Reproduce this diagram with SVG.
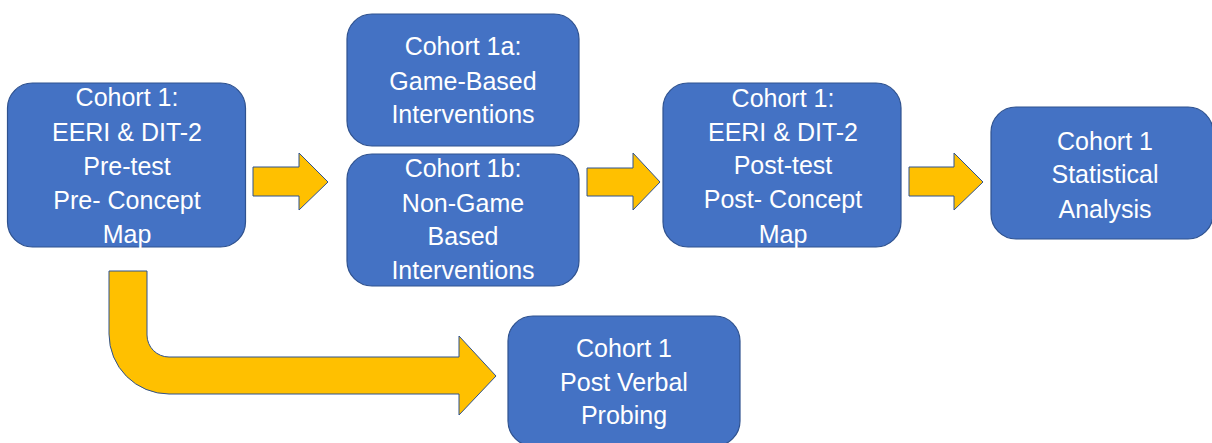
<svg xmlns="http://www.w3.org/2000/svg" width="1212" height="443" viewBox="0 0 1212 443">
<style>
.box{fill:#4472C4;stroke:#2F528F;stroke-width:1.2}
.arr{fill:#FFC000;stroke:#2F528F;stroke-width:1}
.t{font-family:"Liberation Sans",Arial,sans-serif;font-size:25px;fill:#ffffff;text-anchor:middle}
</style>
<rect width="1212" height="443" fill="#ffffff"/>
<g id="connectors">
<path class="arr" d="M253,167 L299,167 L299,153 L328,182 L299,210 L299,196 L253,196 Z"/>
<path class="arr" d="M587,168 L633,168 L633,153 L660,182 L633,210 L633,196 L587,196 Z"/>
<path class="arr" d="M909,167 L954,167 L954,153 L983,182 L954,210 L954,196 L909,196 Z"/>
<path class="arr" d="M109,271 L147,271 L147,335 A22,22 0 0 0 169,357 L459,357 L459,336 L496,376 L459,415 L459,394 L169,394 A60,60 0 0 1 109,334 Z"/>
</g>
<g id="pretest">
<rect class="box" x="7.5" y="83" width="238" height="164" rx="25"/>
<text class="t" x="127" y="106">Cohort 1:</text>
<text class="t" x="127" y="141">EERI &amp; DIT-2</text>
<text class="t" x="127" y="175">Pre-test</text>
<text class="t" x="127" y="209">Pre- Concept</text>
<text class="t" x="127" y="243">Map</text>
</g>
<g id="cohort1a">
<rect class="box" x="347" y="14" width="232" height="132" rx="25"/>
<text class="t" x="463" y="55">Cohort 1a:</text>
<text class="t" x="463" y="90">Game-Based</text>
<text class="t" x="463" y="123">Interventions</text>
</g>
<g id="cohort1b">
<rect class="box" x="347" y="154" width="232" height="132" rx="25"/>
<text class="t" x="463" y="177">Cohort 1b:</text>
<text class="t" x="463" y="212">Non-Game</text>
<text class="t" x="463" y="245">Based</text>
<text class="t" x="463" y="279">Interventions</text>
</g>
<g id="posttest">
<rect class="box" x="663" y="83" width="238" height="164" rx="25"/>
<text class="t" x="783" y="107">Cohort 1:</text>
<text class="t" x="783" y="141">EERI &amp; DIT-2</text>
<text class="t" x="783" y="174">Post-test</text>
<text class="t" x="783" y="208">Post- Concept</text>
<text class="t" x="783" y="243">Map</text>
</g>
<g id="statistical">
<rect class="box" x="991" y="107" width="222" height="132" rx="25"/>
<text class="t" x="1105" y="150">Cohort 1</text>
<text class="t" x="1105" y="183">Statistical</text>
<text class="t" x="1105" y="218">Analysis</text>
</g>
<g id="verbal">
<rect class="box" x="508" y="316" width="232" height="130" rx="25"/>
<text class="t" x="624" y="357">Cohort 1</text>
<text class="t" x="624" y="391">Post Verbal</text>
<text class="t" x="624" y="424">Probing</text>
</g>
</svg>
